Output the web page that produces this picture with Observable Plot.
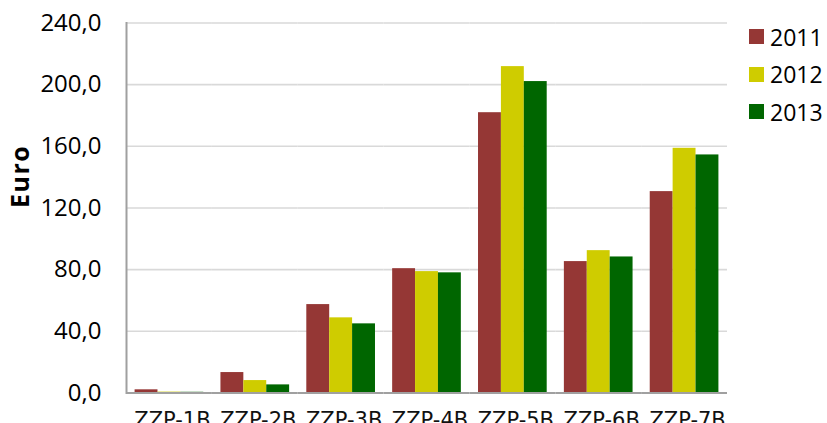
<!DOCTYPE html>
<html><head><meta charset="utf-8">
<script src="https://cdn.jsdelivr.net/npm/d3@7"></script>
<script src="https://cdn.jsdelivr.net/npm/@observablehq/plot@0.6"></script>
<style>
body{margin:0;background:#fff}
#wrap{position:relative;width:827px;height:423px;overflow:hidden;background:#fff}
#legend{position:absolute;left:749px;top:29px;font-family:"Open Sans";font-size:23px;color:#000}
.li{display:flex;align-items:center;height:15px;margin-bottom:22.5px;white-space:nowrap}
.sw{width:15px;height:15px;margin-right:6px;flex:none}
svg g[aria-label="y-axis tick label"] text{font-size:24px;font-family:"Open Sans"}
svg g[aria-label="fx-axis tick label"] text{font-size:21px;font-family:"DejaVu Sans"}
svg g[aria-label="text"] text{letter-spacing:1.5px}
</style>
</head><body><div id="wrap"><div id="legend"></div></div>
<script>
const categories = ["ZZP-1B","ZZP-2B","ZZP-3B","ZZP-4B","ZZP-5B","ZZP-6B","ZZP-7B"];
const years = ["2011","2012","2013"];
const v2011 = [2.0, 13.2, 57.3, 80.6, 181.8, 85.2, 130.6];
const v2012 = [0.5, 8.0, 48.7, 78.7, 211.7, 92.3, 158.7];
const v2013 = [0.4, 5.2, 44.8, 77.9, 202.0, 88.2, 154.4];
const colors = ["#953735", "#cfcc00", "#006600"];
const yTicks = [0, 40, 80, 120, 160, 200, 240];

const series = [v2011, v2012, v2013];
const data = categories.flatMap((c, i) => years.map((y, j) => ({cat: c, year: y, value: series[j][i]})));
const fmt = d => d.toFixed(1).replace(".", ",");

const W = 827, H = 423, mL = 126, mR = 100, mT = 22.5, mB = 30.6;
const padInner = 0.2, padOuter = 0.1;
const step = (W - mL - mR) / (categories.length - padInner + 2 * padOuter);
const halfGap = step * padInner / 2; // extend rules across gaps between facets

const chart = Plot.plot({
  width: W, height: H,
  marginLeft: mL, marginRight: mR, marginTop: mT, marginBottom: mB,
  style: {fontFamily: "Open Sans", background: "#fff", color: "#000"},
  fx: {domain: categories, paddingInner: padInner, paddingOuter: padOuter, round: false, label: null},
  x: {domain: years, padding: 0, round: false, axis: null},
  y: {domain: [0, 240], label: null, axis: null},
  color: {domain: years, range: colors},
  marks: [
    Plot.ruleY(yTicks.filter(t => t > 0), {stroke: "#d9d9d9", strokeWidth: 1.6, insetLeft: -halfGap, insetRight: -halfGap}),
    Plot.barY(data, {fx: "cat", x: "year", y: "value", fill: "year"}),
    Plot.ruleY([0], {stroke: "#a0a0a0", strokeWidth: 2, insetLeft: -halfGap, insetRight: -halfGap}),
    Plot.frame({anchor: "left", stroke: "#a0a0a0", strokeWidth: 2, facetAnchor: "left", insetLeft: -halfGap}),
    Plot.axisY({ticks: yTicks, tickFormat: fmt, tickSize: 0, tickPadding: 25 + halfGap, fontSize: 24, fill: "#000", label: null}),
    Plot.axisFx({anchor: "bottom", tickSize: 0, tickPadding: 19, dx: 3, fontSize: 21, fill: "#111", label: null}),
    Plot.text(["Euro"], {frameAnchor: "left", dx: -114, rotate: -90, fontWeight: "bold", fontSize: 25, fill: "#000", facet: "super"})
  ]
});
document.getElementById("wrap").prepend(chart);

const legend = document.getElementById("legend");
years.forEach((y, j) => {
  const item = document.createElement("div");
  item.className = "li";
  const sw = document.createElement("span");
  sw.className = "sw";
  sw.style.background = colors[j];
  const t = document.createElement("span");
  t.textContent = y;
  item.append(sw, t);
  legend.append(item);
});
</script>
</body></html>
